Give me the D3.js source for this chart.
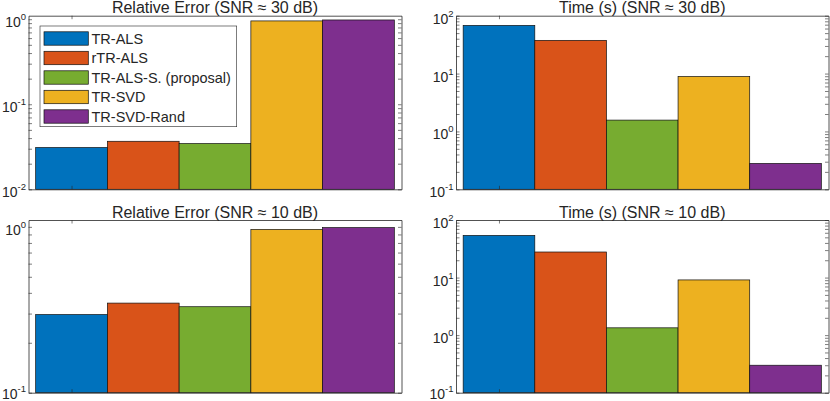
<!DOCTYPE html>
<html>
<head>
<meta charset="utf-8">
<script src="https://cdn.jsdelivr.net/npm/d3@7"></script>
<style>
  body { margin: 0; background: #fff; }
  text { font-family: "Liberation Sans", Arial, sans-serif; fill: #262626; }
</style>
</head>
<body>
<svg id="fig"></svg>
<script>
// methods (legend order = bar order)
const methods = ["TR-ALS", "rTR-ALS", "TR-ALS-S. (proposal)", "TR-SVD", "TR-SVD-Rand"]
const colors = ["#0072BD", "#D95319", "#77AC30", "#EDB120", "#7E2F8E"]

// values
const errSnr30 = [0.031, 0.0367, 0.0345, 0.955, 0.98]
const timeSnr30 = [68, 37.5, 1.57, 8.9, 0.28]
const errSnr10 = [0.296, 0.347, 0.33, 0.965, 0.99]
const timeSnr10 = [54, 27.8, 1.34, 9.1, 0.30]

const titles = ["Relative Error (SNR \u2248 30 dB)", "Time (s) (SNR \u2248 30 dB)",
                "Relative Error (SNR \u2248 10 dB)", "Time (s) (SNR \u2248 10 dB)"]
const yDomains = [[0.01, 1.1], [0.1, 100], [0.1, 1.1], [0.1, 100]]
const seriesList = [errSnr30, timeSnr30, errSnr10, timeSnr10]

const W = 830, H = 401
const svg = d3.select("#fig").attr("width", W).attr("height", H)
svg.append("rect").attr("width", W).attr("height", H).attr("fill", "#fff")

const colX = [[28.5, 401.5], [456, 828.5]]
const rowY = [[15.7, 189.3], [220, 392.7]]
const axisColor = "#262626"
const tick = 3.5

seriesList.forEach((vals, p) => {
    const [x0, x1] = colX[p % 2]
    const [y0, y1] = rowY[Math.floor(p / 2)]
    const dom = yDomains[p]

    const x = d3.scaleLinear().domain([0.4, 5.6]).range([x0, x1])
    const y = d3.scaleLog().domain(dom).range([y1, y0])

    const g = svg.append("g")

    // bars
    g.selectAll("rect.bar")
        .data(vals)
        .join("rect")
        .attr("class", "bar")
        .attr("x", (d, i) => x(i + 0.5))
        .attr("width", (d, i) => x(i + 1.5) - x(i + 0.5))
        .attr("y", d => y(d))
        .attr("height", d => y(dom[0]) - y(d))
        .attr("fill", (d, i) => colors[i])
        .attr("stroke", "#111")
        .attr("stroke-width", 0.7)

    // log ticks: majors at powers of ten, minors 2..9
    const lo = Math.round(Math.log10(dom[0])), hi = Math.floor(Math.log10(dom[1]))
    const majors = d3.range(lo, hi + 1).map(k => Math.pow(10, k))
    const minors = []
    for (let k = lo; k < hi + 1; k++) {
        for (let m = 2; m <= 9; m++) {
            const v = m * Math.pow(10, k)
            if (v < dom[1]) minors.push(v)
        }
    }
    const allTicks = majors.concat(minors)

    const yl = g.append("g").attr("transform", `translate(${x0},0)`)
        .call(d3.axisLeft(y).tickValues(allTicks).tickSize(-tick).tickSizeOuter(0).tickFormat(""))
    const yr = g.append("g").attr("transform", `translate(${x1},0)`)
        .call(d3.axisRight(y).tickValues(allTicks).tickSize(-tick).tickSizeOuter(0).tickFormat(""))
    const xb = g.append("g").attr("transform", `translate(0,${y1})`)
        .call(d3.axisBottom(x).tickValues([1]).tickSize(-tick).tickSizeOuter(0).tickFormat(""))
    const xt = g.append("g").attr("transform", `translate(0,${y0})`)
        .call(d3.axisTop(x).tickValues([1]).tickSize(-tick).tickSizeOuter(0).tickFormat(""))
    ;[yl, yr, xb, xt].forEach(a => {
        a.selectAll("path.domain").attr("stroke", axisColor).attr("stroke-width", 0.8)
        a.selectAll("line").attr("stroke", axisColor).attr("stroke-width", 0.6)
    })

    // tick labels 10^k
    majors.forEach(v => {
        const k = Math.round(Math.log10(v))
        const t = g.append("text")
            .attr("x", x0 - 2.5)
            .attr("y", Math.min(y(v) + 8, H - 2))
            .attr("text-anchor", "end")
            .attr("font-size", 14)
        t.append("tspan").text("10")
        t.append("tspan").attr("font-size", 9.5).attr("dy", -7).text(k)
    })

    // title
    g.append("text")
        .attr("x", (x0 + x1) / 2)
        .attr("y", y0 - 2.5)
        .attr("text-anchor", "middle")
        .attr("font-size", 16)
        .attr("fill", "#000")
        .text(titles[p])
})

// legend (top-left panel)
const leg = svg.append("g")
leg.append("rect")
    .attr("x", 40).attr("y", 26)
    .attr("width", 196.7).attr("height", 100.7)
    .attr("fill", "#fff")
    .attr("stroke", axisColor)
    .attr("stroke-width", 0.6)
methods.forEach((m, i) => {
    const cy = 38.5 + i * 19.5
    leg.append("rect")
        .attr("x", 44).attr("y", cy - 6.7)
        .attr("width", 44.3).attr("height", 13.4)
        .attr("fill", colors[i])
        .attr("stroke", "#111")
        .attr("stroke-width", 0.7)
    leg.append("text")
        .attr("x", 91.5).attr("y", cy + 5.2)
        .attr("font-size", 14.5)
        .attr("fill", "#000")
        .text(m)
})
</script>
</body>
</html>
